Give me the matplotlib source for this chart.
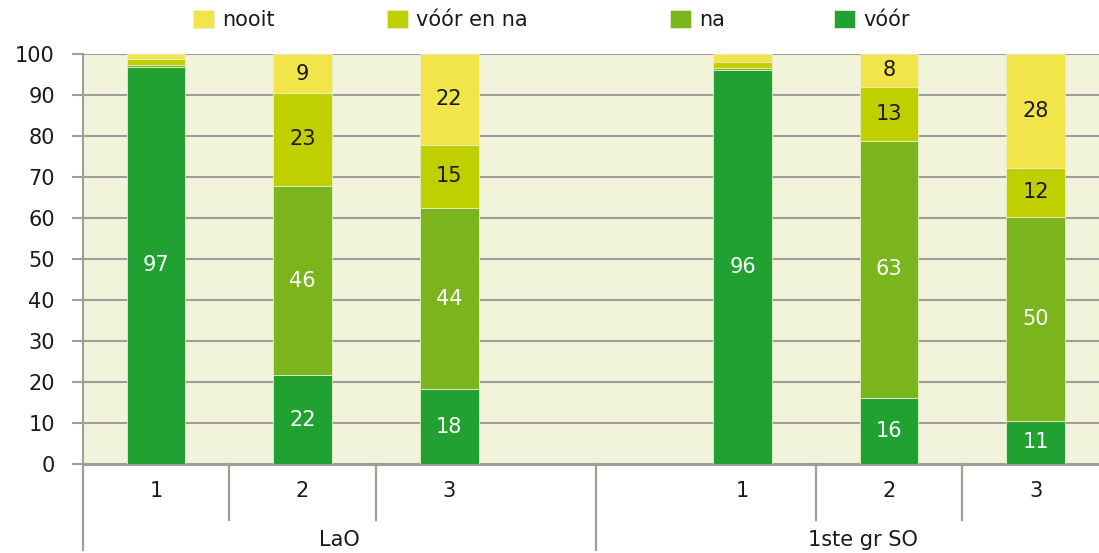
import numpy as np
import matplotlib
matplotlib.use("Agg")
import matplotlib.pyplot as plt

# data
series = ["vóór", "na", "vóór en na", "nooit"]
bar_labels = ["1", "2", "3", "1", "2", "3"]
groups = ["LaO", "1ste gr SO"]
voor = [96.9, 21.6, 18.2, 96.0, 16.1, 10.6]
na = [0.4, 46.2, 44.3, 0.6, 62.7, 49.7]
voor_en_na = [1.5, 22.7, 15.3, 1.5, 13.2, 12.0]
nooit = [1.2, 9.4, 22.2, 1.9, 8.0, 27.7]

colors = ["#21A131", "#7AB51D", "#C0CF00", "#F2E54A"]
text_colors = ["white", "white", "#1A1A1A", "#1A1A1A"]
grid_gray = "#A19D99"
fs = 15

plt.rcParams["font.family"] = ["DejaVu Sans"]

x = np.array([0, 1, 2, 4, 5, 6])

fig = plt.figure(figsize=(10.99, 5.53), dpi=100)
ax = fig.add_axes([0.0752, 0.161, 0.934, 0.7414])
ax.set_facecolor("#F1F4DB")

bottom = np.zeros(len(x))
containers = []
for vals, col, tcol in zip([voor, na, voor_en_na, nooit], colors, text_colors):
    vals = np.array(vals)
    bars = ax.bar(x, vals, width=0.4, bottom=bottom, color=col,
                  edgecolor="#E8EEC8", linewidth=0.6, zorder=3)
    containers.append(bars)
    for xi, b, v in zip(x, bottom, vals):
        if v >= 3:
            ax.text(xi, b + v / 2, f"{v:.0f}", ha="center", va="center",
                    color=tcol, fontsize=fs, zorder=4)
    bottom = bottom + vals

ax.set_xlim(-0.5, 6.5)
ax.set_ylim(0, 100)
ax.set_yticks(range(0, 101, 10))
ax.yaxis.grid(True, color=grid_gray, linewidth=1.5, zorder=1)
ax.set_axisbelow(True)
ax.tick_params(axis="y", length=8, width=1.5, color=grid_gray,
               labelsize=fs, labelcolor="#1A1A1A", pad=12)
ax.set_xticks([])
for side in ["top", "right"]:
    ax.spines[side].set_visible(False)
ax.spines["left"].set_color(grid_gray)
ax.spines["left"].set_linewidth(1.5)
ax.spines["bottom"].set_color(grid_gray)
ax.spines["bottom"].set_linewidth(2.2)

# category labels and separators below the axis
tr = ax.get_xaxis_transform()
for xi, lab in zip(x, bar_labels):
    ax.text(xi, -0.065, lab, transform=tr, ha="center", va="center",
            fontsize=fs, color="#1A1A1A")
for sx in [0.5, 1.5, 4.5, 5.5]:
    ax.plot([sx, sx], [0, -0.137], transform=tr, color=grid_gray,
            linewidth=1.6, clip_on=False)
for sx in [-0.5, 3.0]:
    ax.plot([sx, sx], [0, -0.21], transform=tr, color=grid_gray,
            linewidth=1.6, clip_on=False)
for gx, g in zip([1.25, 4.82], groups):
    ax.text(gx, -0.185, g, transform=tr, ha="center", va="center",
            fontsize=fs, color="#1A1A1A")

# legend entries placed one by one along the top (nooit first)
legend_x = [193, 387, 670, 834]
for bars, name, lx in zip(containers[::-1], series[::-1], legend_x):
    leg = fig.legend([bars], [name], loc="center left",
                     bbox_to_anchor=(lx / 1099, 1 - 20 / 553),
                     frameon=False, fontsize=fs, borderpad=0,
                     borderaxespad=0, handlelength=1.0, handleheight=1.0,
                     handletextpad=0.4)
    for t in leg.get_texts():
        t.set_color("#1A1A1A")

fig.savefig("out.png", dpi=100)
